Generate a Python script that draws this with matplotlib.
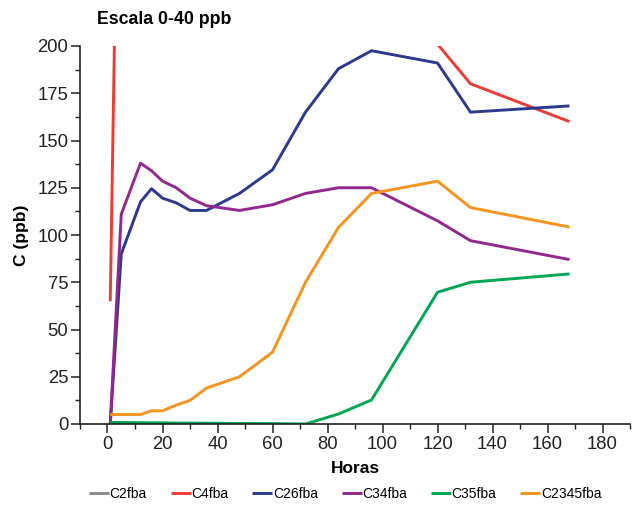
import numpy as np
import matplotlib
matplotlib.use("Agg")
import matplotlib.pyplot as plt
from matplotlib.ticker import MultipleLocator

plt.rcParams['font.family'] = ['Liberation Sans', 'DejaVu Sans']

nan = np.nan

# Sampling times (hours)
horas = [1, 5, 12, 16, 20, 25, 30, 36, 48, 60, 72, 84, 96, 120, 132, 168]

# Concentrations (ppb); values above the axis range are clipped by the plot
c2fba = [nan] * len(horas)
c4fba = [65, 425, nan, nan, nan, nan, nan, nan, nan, nan, nan, nan, nan, 201, 180, 160]
c26fba = [0, 90, 117.5, 124.5, 119.5, 117, 113, 113, 122, 134.5, 165, 188, 197.5, 191, 165, 168.3]
c34fba = [0, 111, 138, 134, 128.5, 125, 119.5, 115.5, 113, 116, 122, 125, 125, 107.5, 97, 87]
c35fba = [0.8, 0.8, 0.7, 0.6, 0.6, 0.5, 0.5, 0.4, 0.3, 0.2, 0, 5.3, 12.7, 69.7, 75, 79.4]
c2345fba = [5, 5, 5, 7, 7, 10, 12.5, 19, 25, 38, 75, 104, 122, 128.5, 114.5, 104.2]

series = [
    ("C2fba", c2fba, "#8c8c8c"),
    ("C4fba", c4fba, "#ee3b33"),
    ("C26fba", c26fba, "#2b3990"),
    ("C34fba", c34fba, "#92278f"),
    ("C35fba", c35fba, "#00a651"),
    ("C2345fba", c2345fba, "#f7941d"),
]

fig = plt.figure(figsize=(6.38, 5.05), dpi=100)
ax = fig.add_axes([80 / 638, 1 - 424 / 505, 550 / 638, 378 / 505])

for name, vals, color in series:
    ax.plot(horas, vals, color=color, lw=2.1, label=name, solid_capstyle='butt')

ax.set_xlim(-10, 190)
ax.set_ylim(0, 200)
ax.xaxis.set_major_locator(MultipleLocator(20))
ax.xaxis.set_minor_locator(MultipleLocator(10))
ax.yaxis.set_major_locator(MultipleLocator(25))
ax.yaxis.set_minor_locator(MultipleLocator(12.5))
ax.set_xticks([0, 20, 40, 60, 80, 100, 120, 140, 160, 180])

for side in ("top", "right"):
    ax.spines[side].set_visible(False)
for side in ("left", "bottom"):
    ax.spines[side].set_linewidth(1.2)
    ax.spines[side].set_color("#222222")

ax.tick_params(which="major", length=6.5, width=1.1, labelsize=13.3, color="#222222",
               labelcolor="#222222", pad=2)
ax.tick_params(which="minor", length=3.6, width=1.0, color="#222222")

ax.set_xlabel("Horas", fontsize=12.5, fontweight="bold", labelpad=6)
ax.set_ylabel("C (ppb)", fontsize=12.5, fontweight="bold", labelpad=6)
fig.text(97 / 638, 1 - 20 / 505, "Escala 0-40 ppb", fontsize=12.8, fontweight="bold",
         ha="left", va="center")

fig.legend(loc="center", bbox_to_anchor=(0.541, 1 - 494 / 505), ncol=6, frameon=False,
           fontsize=10, handlelength=1.45, handletextpad=0.05, columnspacing=1.7,
           borderaxespad=0, borderpad=0)

fig.savefig("out.png", dpi=100)
